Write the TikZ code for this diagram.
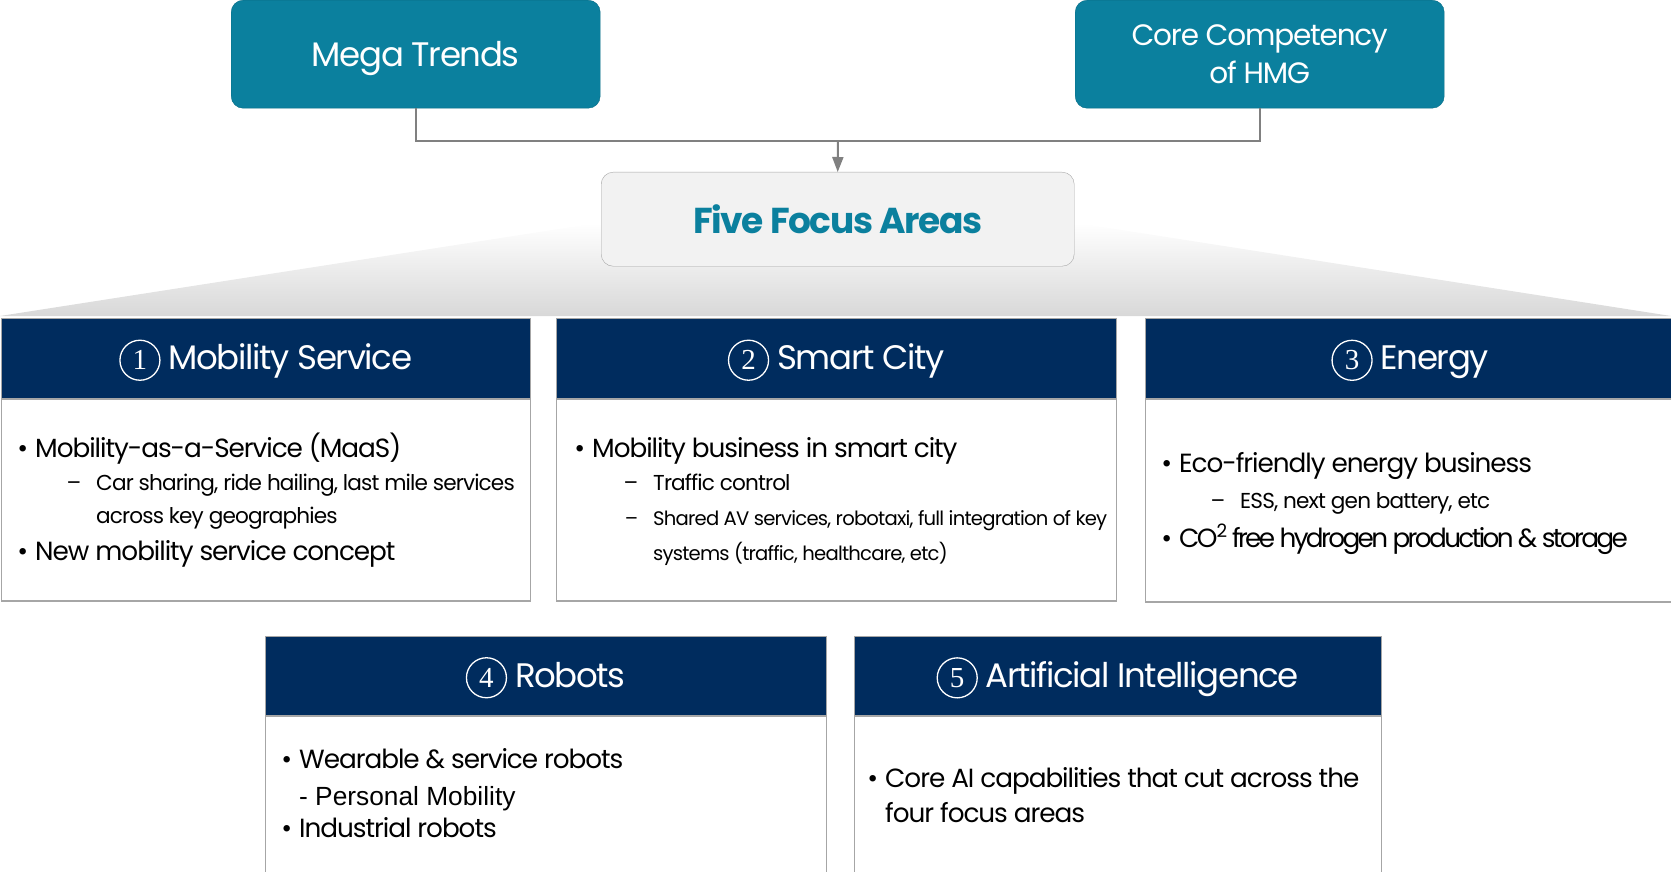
\documentclass[tikz,border=0pt]{standalone}
\usepackage{fontspec}
\setmainfont{Poppins}[LetterSpace=-4]
\newfontfamily\numfont{Liberation Serif}
\newfontfamily\plainfont{Liberation Sans}
\usetikzlibrary{positioning,arrows.meta}

\definecolor{hmgteal}{RGB}{11,128,158}
\definecolor{hmgnavy}{RGB}{0,44,94}
\definecolor{edgegray}{RGB}{166,166,166}
\definecolor{linkgray}{RGB}{128,128,128}
\definecolor{fanshade}{RGB}{216,216,216}
\definecolor{focusfill}{RGB}{242,242,242}

\newcommand{\circnum}[1]{\tikz[baseline=(n.base)]
  \node[circle, draw=white, line width=1.3pt, minimum size=40pt, inner sep=0pt,
        font=\numfont\fontsize{29}{29}\selectfont] (n) {#1};}
\newcommand{\bul}{\llap{\textbullet\hspace{7pt}}}
\newcommand{\dsh}{\llap{–\hspace{15pt}}}

\tikzset{
  topbox/.style={fill=hmgteal, draw=hmgteal!85!black, rounded corners=12pt,
    text=white, align=center, anchor=north west, minimum width=369pt,
    minimum height=108pt, font=\fontsize{29.5}{38}\selectfont},
  focusbox/.style={fill=focusfill, draw=edgegray, rounded corners=12pt,
    text=hmgteal, anchor=north west, minimum width=473pt, minimum height=94pt,
    font=\bfseries\fontsize{36}{40}\selectfont},
  headbar/.style={fill=hmgnavy, draw=edgegray, text=white, anchor=north west,
    inner sep=0pt, text depth=7pt, font=\fontsize{34}{40}\selectfont},
  bodybox/.style={draw=edgegray, fill=white, anchor=north west, line width=1.2pt},
  item/.style={anchor=base west, inner sep=0pt, font=\fontsize{26.3}{30}\selectfont},
  subitem/.style={anchor=base west, inner sep=0pt, font=\fontsize{21.6}{26}\selectfont},
  smallitem/.style={anchor=base west, inner sep=0pt, font=\fontsize{19.6}{24}\selectfont},
  plainitem/.style={anchor=base west, inner sep=0pt, font=\plainfont\fontsize{26.3}{28}\selectfont},
  link/.style={draw=linkgray, line width=2pt},
}

\begin{document}
\begin{tikzpicture}[x=1pt,y=-1pt]
\useasboundingbox (0,0) rectangle (1671,872);
\clip (0,0) rectangle (1671,872);

% fan under the focus box
\shade[top color=white, bottom color=fanshade]
  (597,223) -- (1077,223) -- (1671,316) -- (0,316) -- cycle;

% top row
\node[topbox, text depth=0pt, font=\fontsize{34}{38}\selectfont] (mega) at (231,0) {Mega Trends};
\node[topbox] (core) at (1075,0) {Core Competency\\of HMG};
\node[focusbox] (focus) at (601,172) {Five Focus Areas};
\coordinate (join) at (838,141);
\draw[link] (mega.south) |- (join) -| (core.south);
\draw[link, -{Triangle[length=15pt,width=11pt]}] (join) -- (focus.north);

% focus areas, first row
\node[headbar, minimum width=529pt, minimum height=80pt] (h1) at (1,318)
  {\circnum{1}\hspace{8pt}Mobility Service};
\node[bodybox, minimum width=529pt, minimum height=202pt] (b1) at (h1.south west) {};
\node[headbar, minimum width=560pt, minimum height=80pt] (h2) at (556,318)
  {\circnum{2}\hspace{8pt}Smart City};
\node[bodybox, minimum width=560pt, minimum height=202pt] (b2) at (h2.south west) {};
\node[headbar, minimum width=530pt, minimum height=80pt] (h3) at (1145,318)
  {\circnum{3}\hspace{8pt}Energy};
\node[bodybox, minimum width=530pt, minimum height=203pt] (b3) at (h3.south west) {};

% focus areas, second row
\node[headbar, minimum width=561pt, minimum height=79pt] (h4) at (265,636)
  {\circnum{4}\hspace{8pt}Robots};
\node[bodybox, minimum width=561pt, minimum height=170pt] (b4) at (h4.south west) {};
\node[headbar, minimum width=527pt, minimum height=79pt] (h5) at (854,636)
  {\circnum{5}\hspace{8pt}Artificial Intelligence};
\node[bodybox, minimum width=527pt, minimum height=170pt] (b5) at (h5.south west) {};

% items
\node[item] (i1a) at (35,457) {\bul Mobility-as-a-Service (MaaS)};
\node[subitem] (i1b) at (96,490) {\dsh Car sharing, ride hailing, last mile services};
\node[subitem] (i1c) at (96,523) {across key geographies};
\node[item] (i1d) at (35,560) {\bul New mobility service concept};

\node[item] (i2a) at (592,457) {\bul Mobility business in smart city};
\node[subitem] (i2b) at (653,490) {\dsh Traffic control};
\node[smallitem] (i2c) at (653,525) {\dsh Shared AV services, robotaxi, full integration of key};
\node[smallitem] (i2d) at (653,560) {systems (traffic, healthcare, etc)};

\node[item] (i3a) at (1179,472) {\bul Eco-friendly energy business};
\node[subitem] (i3b) at (1240,508) {\dsh ESS, next gen battery, etc};
\node[item] (i3c) at (1179,547) {\addfontfeature{LetterSpace=-10}\bul CO\kern-1pt\textsuperscript{2} free hydrogen production \& storage};

\node[item] (i4a) at (299,768) {\bul Wearable \& service robots};
\node[plainitem] (i4b) at (299,805) {- Personal Mobility};
\node[item] (i4c) at (299,837) {\bul Industrial robots};

\node[item] (i5a) at (885,787) {\bul Core AI capabilities that cut across the};
\node[item] (i5b) at (885,822) {four focus areas};
\end{tikzpicture}
\end{document}
